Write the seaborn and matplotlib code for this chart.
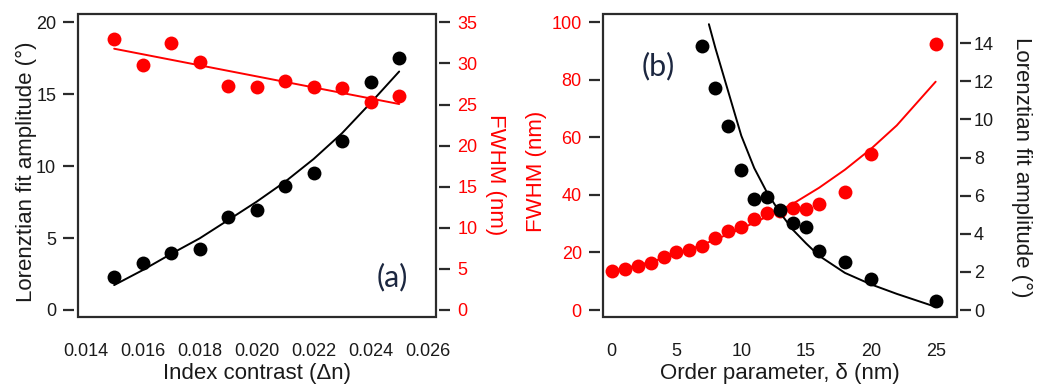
import seaborn as sns
import matplotlib.pyplot as plt
from matplotlib.patches import Rectangle

# panel (a): amplitude and FWHM vs index contrast
dn = [0.015, 0.016, 0.017, 0.018, 0.019, 0.020, 0.021, 0.022, 0.023, 0.024, 0.025]
amp_a = [2.31, 3.24, 3.93, 4.21, 6.48, 6.95, 8.62, 9.5, 11.78, 15.82, 17.49]
fwhm_a = [32.97, 29.77, 32.48, 30.17, 27.29, 27.09, 27.9, 27.17, 27.0, 25.3, 26.07]
amp_a_fit = [1.73, 2.77, 3.9, 4.98, 6.25, 7.53, 8.92, 10.5, 12.3, 14.4, 16.58]
fwhm_a_fit_x = [0.015, 0.025]
fwhm_a_fit = [31.79, 25.06]

# panel (b): FWHM and amplitude vs order parameter
delta_fwhm = [0, 1, 2, 3, 4, 5, 6, 7, 8, 9, 10, 11, 12, 13, 14, 15, 16, 18, 20, 25]
fwhm_b = [13.57, 14.14, 15.3, 16.46, 18.43, 20.06, 20.87, 22.38, 25.04, 27.48,
          28.99, 31.53, 33.85, 34.5, 35.36, 35.0, 36.98, 41.16, 54.37, 92.4]
delta_amp = [7, 8, 9, 10, 11, 12, 13, 14, 15, 16, 18, 20, 25]
amp_b = [13.87, 11.67, 9.66, 7.33, 5.83, 5.95, 5.25, 4.55, 4.34, 3.11, 2.52, 1.64, 0.49]
fwhm_b_fit_x = [0, 2, 4, 6, 8, 10, 12, 14, 16, 18, 20, 22, 25]
fwhm_b_fit = [13.6, 15.5, 18.0, 21.0, 24.5, 28.3, 32.5, 37.0, 42.5, 48.8, 56.0, 64.2, 79.4]
amp_b_fit_x = [7.5, 8, 9, 10, 11, 12, 13, 14, 15, 16, 18, 20, 22, 25]
amp_b_fit = [15.0, 13.75, 11.45, 9.15, 7.45, 6.15, 5.1, 4.2, 3.5, 2.85, 1.95, 1.35, 0.85, 0.17]

sns.set_style("white")
plt.rcParams["font.family"] = ["Liberation Sans", "DejaVu Sans"]

RED = "#ff0000"
FRAME = "#2b2b2b"
TXT = "#1a1a1a"
TICK_FS = 13
LABEL_FS = 16
DOT = 100

fig = plt.figure(figsize=(10.47, 3.88), dpi=100)
ax1 = fig.add_axes([0.0742, 0.1822, 0.3419, 0.781])
ax2 = ax1.twinx()
ax3 = fig.add_axes([0.5762, 0.1822, 0.3375, 0.781])
ax4 = ax3.twinx()


def style(ax, side, color, pad):
    for s in ax.spines.values():
        s.set_visible(False)
    ax.spines[side].set_position(("outward", 2.5))
    ax.spines["bottom"].set_position(("outward", 2.5))
    ax.tick_params(axis="y", which="both", direction="out", length=8, width=1.6,
                   color=FRAME, labelcolor=color, labelsize=TICK_FS, pad=pad)
    if side == "left":
        ax.tick_params(axis="y", left=True, right=False, labelleft=True, labelright=False)
    else:
        ax.tick_params(axis="y", left=False, right=True, labelleft=False, labelright=True)


# panel (a)
sns.lineplot(x=dn, y=amp_a_fit, ax=ax1, color="black", lw=1.4)
sns.scatterplot(x=dn, y=amp_a, ax=ax1, color="black", s=DOT, linewidth=0, zorder=3)
sns.lineplot(x=fwhm_a_fit_x, y=fwhm_a_fit, ax=ax2, color=RED, lw=1.4)
sns.scatterplot(x=dn, y=fwhm_a, ax=ax2, color=RED, s=DOT, linewidth=0, zorder=3)

ax1.set_xlim(0.01372, 0.02628)
ax1.set_ylim(-0.51, 20.56)
ax2.set_ylim(-0.89, 35.98)
ax1.set_xticks([0.014, 0.016, 0.018, 0.020, 0.022, 0.024, 0.026])
ax1.set_xticklabels(["0.014", "0.016", "0.018", "0.020", "0.022", "0.024", "0.026"])
ax1.set_yticks([0, 5, 10, 15, 20])
ax2.set_yticks([0, 5, 10, 15, 20, 25, 30, 35])
style(ax1, "left", TXT, 5)
style(ax2, "right", RED, 5)
ax1.tick_params(axis="x", direction="out", length=8, width=1.6, color=FRAME,
                labelsize=TICK_FS, pad=8, labelcolor=TXT)

ax1.set_ylabel("Lorenztian fit amplitude (°)", fontsize=LABEL_FS, color=TXT,
               va="center", ha="center")
ax1.yaxis.set_label_coords(-0.144, 0.48)
ax2.set_ylabel("FWHM (nm)", fontsize=LABEL_FS, color=RED, rotation=270, va="center", ha="center")
ax2.yaxis.set_label_coords(1.168, 0.47)
ax1.set_xlabel("Index contrast (Δn)", fontsize=LABEL_FS, color=TXT, va="center")
ax1.xaxis.set_label_coords(0.5, -0.187)
ax1.text(0.878, 0.133, "(a)", transform=ax1.transAxes, fontsize=22, family="Lato",
         color="#1c2740", ha="center", va="center")

# panel (b)
sns.lineplot(x=fwhm_b_fit_x, y=fwhm_b_fit, ax=ax3, color=RED, lw=1.4)
sns.scatterplot(x=delta_fwhm, y=fwhm_b, ax=ax3, color=RED, s=DOT, linewidth=0, zorder=3)
sns.lineplot(x=amp_b_fit_x, y=amp_b_fit, ax=ax4, color="black", lw=1.4)
sns.scatterplot(x=delta_amp, y=amp_b, ax=ax4, color="black", s=DOT, linewidth=0, zorder=3)

ax3.set_xlim(-0.65, 26.62)
ax3.set_ylim(-2.54, 102.85)
ax4.set_ylim(-0.38, 15.52)
ax3.set_xticks([0, 5, 10, 15, 20, 25])
ax3.set_yticks([0, 20, 40, 60, 80, 100])
ax4.set_yticks([0, 2, 4, 6, 8, 10, 12, 14])
style(ax3, "left", RED, 5)
style(ax4, "right", TXT, 2)
ax3.tick_params(axis="x", direction="out", length=8, width=1.6, color=FRAME,
                labelsize=TICK_FS, pad=8, labelcolor=TXT)

ax3.set_ylabel("FWHM (nm)", fontsize=LABEL_FS, color=RED, va="center", ha="center")
ax3.yaxis.set_label_coords(-0.19, 0.48)
ax4.set_ylabel("Lorenztian fit amplitude (°)", fontsize=LABEL_FS, color=TXT, rotation=270,
               va="center", ha="center")
ax4.yaxis.set_label_coords(1.185, 0.496)
ax3.set_xlabel("Order parameter, δ (nm)", fontsize=LABEL_FS, color=TXT, va="center")
ax3.xaxis.set_label_coords(0.5, -0.187)
ax3.text(0.155, 0.829, "(b)", transform=ax3.transAxes, fontsize=22, family="Lato",
         color="#1c2740", ha="center", va="center")

for ax in (ax1, ax3):
    ax.add_patch(Rectangle((0, 0), 1, 1, transform=ax.transAxes, fill=False,
                           lw=1.6, edgecolor=FRAME, clip_on=False, zorder=5))
for ax in (ax1, ax2, ax3, ax4):
    ax.set_facecolor("none")
    leg = ax.get_legend()
    if leg:
        leg.remove()

plt.savefig("out.png", dpi=100)
